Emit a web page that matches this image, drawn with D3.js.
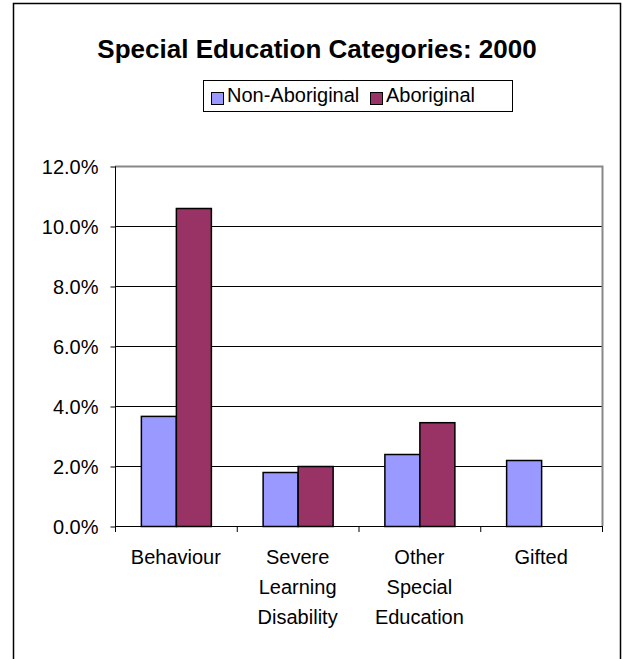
<!DOCTYPE html>
<html>
<head>
<meta charset="utf-8">
<script src="https://cdnjs.cloudflare.com/ajax/libs/d3/7.8.5/d3.min.js"></script>
<style>
  body { margin: 0; background: #fff; }
  svg { display: block; font-family: "Liberation Sans", Arial, sans-serif; }
</style>
</head>
<body>
<div id="chart"></div>
<script>
// Chart data
const categories = ['Behaviour', 'Severe Learning Disability', 'Other Special Education', 'Gifted'];
const categoryLines = [['Behaviour'], ['Severe', 'Learning', 'Disability'], ['Other', 'Special', 'Education'], ['Gifted']];
const seriesNames = ['Non-Aboriginal', 'Aboriginal'];
const nonAboriginal = [3.67, 1.8, 2.4, 2.2];
const aboriginal = [10.6, 2.0, 3.46, 0];
const yTicks = [0, 2, 4, 6, 8, 10, 12];
const seriesColors = ['#9999FF', '#993366'];

const width = 623, height = 659;
const plot = { left: 115, right: 602, top: 166, bottom: 526 };

const svg = d3.select('#chart').append('svg')
  .attr('width', width)
  .attr('height', height);

// Outer chart frame (bottom runs off the page)
svg.append('rect')
  .attr('x', 13.5).attr('y', 3.5)
  .attr('width', 607).attr('height', 700)
  .attr('fill', '#fff')
  .attr('stroke', '#000')
  .attr('stroke-width', 1.5);

// Title
svg.append('text')
  .attr('x', 317).attr('y', 58)
  .attr('text-anchor', 'middle')
  .attr('font-size', 26)
  .attr('font-weight', 'bold')
  .text('Special Education Categories: 2000');

// Scales
const x0 = d3.scaleBand()
  .domain(categories)
  .range([plot.left, plot.right])
  .paddingInner(0.425)
  .paddingOuter(0.2125);

const x1 = d3.scaleBand()
  .domain(seriesNames)
  .range([0, x0.bandwidth()]);

const y = d3.scaleLinear()
  .domain([0, 12])
  .range([plot.bottom, plot.top]);

// Gridlines
svg.append('g')
  .selectAll('line')
  .data(yTicks.filter(d => d > 0 && d < 12))
  .join('line')
  .attr('x1', plot.left).attr('x2', plot.right)
  .attr('y1', d => y(d) + 0.5).attr('y2', d => y(d) + 0.5)
  .attr('stroke', '#000');

// Plot area border (top and right in grey)
svg.append('path')
  .attr('d', `M${plot.left},${plot.top + 0.5}H${plot.right + 0.5}V${plot.bottom}`)
  .attr('fill', 'none')
  .attr('stroke', '#888')
  .attr('stroke-width', 2);

// Bars
const groups = svg.append('g')
  .selectAll('g')
  .data(categories.map((c, i) => ({ cat: c, values: [nonAboriginal[i], aboriginal[i]] })))
  .join('g')
  .attr('transform', d => `translate(${x0(d.cat)},0)`);

groups.selectAll('rect')
  .data(d => d.values.map((v, j) => ({ key: seriesNames[j], v: v, color: seriesColors[j] })).filter(d => d.v > 0))
  .join('rect')
  .attr('x', d => x1(d.key) + 0.5)
  .attr('y', d => y(d.v) + 0.5)
  .attr('width', x1.bandwidth())
  .attr('height', d => y(0) - y(d.v))
  .attr('fill', d => d.color)
  .attr('stroke', '#000')
  .attr('stroke-width', 1.5);

// Y axis
const yAxis = svg.append('g')
  .attr('transform', `translate(${plot.left + 0.5},0.5)`)
  .call(d3.axisLeft(y)
    .tickValues(yTicks)
    .tickSize(5)
    .tickPadding(12)
    .tickFormat(d => d.toFixed(1) + '%'));
yAxis.select('.domain').attr('d', `M0,${plot.top}V${plot.bottom}`).attr('stroke', '#000');
yAxis.selectAll('.tick text')
  .attr('font-size', 20)
  .attr('font-family', '"Liberation Sans", Arial, sans-serif')
  .attr('fill', '#000')
  .attr('dy', '0.35em');

// X axis baseline with ticks at category boundaries
const step = x0.step();
const bounds = d3.range(categories.length + 1).map(i => plot.left + i * step);
const xAxis = svg.append('g');
xAxis.append('line')
  .attr('x1', plot.left).attr('x2', plot.right + 1)
  .attr('y1', plot.bottom + 0.5).attr('y2', plot.bottom + 0.5)
  .attr('stroke', '#000');
xAxis.selectAll('line.tick')
  .data(bounds)
  .join('line')
  .attr('class', 'tick')
  .attr('x1', d => d + 0.5).attr('x2', d => d + 0.5)
  .attr('y1', plot.bottom).attr('y2', plot.bottom + 6)
  .attr('stroke', '#000');

// Category labels
const labels = xAxis.selectAll('text')
  .data(categories)
  .join('text')
  .attr('text-anchor', 'middle')
  .attr('font-size', 20)
  .attr('x', d => x0(d) + x0.bandwidth() / 2)
  .attr('y', 564);
labels.selectAll('tspan')
  .data((d, i) => categoryLines[i])
  .join('tspan')
  .attr('x', function () { return this.parentNode.getAttribute('x'); })
  .attr('dy', (d, i) => i === 0 ? 0 : 30)
  .text(d => d);

// Legend
const legend = svg.append('g');
legend.append('rect')
  .attr('x', 203.5).attr('y', 80.5)
  .attr('width', 309).attr('height', 31)
  .attr('fill', '#fff')
  .attr('stroke', '#000');
const legendX = [211, 370];
const items = legend.selectAll('g')
  .data(seriesNames)
  .join('g')
  .attr('transform', (d, i) => `translate(${legendX[i]},88)`);
items.append('rect')
  .attr('x', 0.5).attr('y', 4.5)
  .attr('width', 12).attr('height', 12)
  .attr('fill', (d, i) => seriesColors[i])
  .attr('stroke', '#000');
items.append('text')
  .attr('x', 16).attr('y', 14)
  .attr('font-size', 20)
  .text(d => d);
</script>
</body>
</html>
